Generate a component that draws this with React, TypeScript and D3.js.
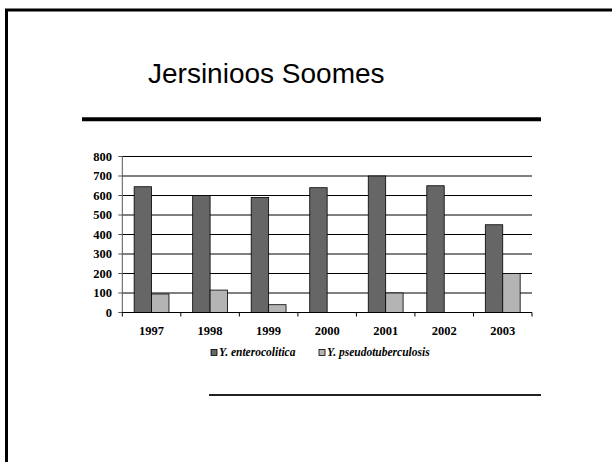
import * as d3 from 'd3';

const years = ['1997', '1998', '1999', '2000', '2001', '2002', '2003'];
const seriesNames = ['Y. enterocolitica', 'Y. pseudotuberculosis'];
const enterocolitica = [645, 600, 590, 640, 700, 650, 450];
const pseudotuberculosis = [95, 115, 40, 0, 100, 0, 200];
const yTicks = [0, 100, 200, 300, 400, 500, 600, 700, 800];
const colors = ['#666666', '#b4b4b4'];

const W = 612;
const H = 462;

const App = () => {
  const plot = { left: 122.3, right: 532, top: 156.5, bottom: 312.5 };

  const x = d3.scaleBand<string>().domain(years).range([plot.left, plot.right]).padding(0);
  const inner = d3
    .scaleBand<string>()
    .domain(seriesNames)
    .range([0, x.bandwidth()])
    .paddingInner(0)
    .paddingOuter(0.68);
  const y = d3.scaleLinear().domain([0, 800]).range([plot.bottom, plot.top]);

  const values = [enterocolitica, pseudotuberculosis];
  const tickFont = { fontFamily: '"Liberation Serif", "Times New Roman", serif', fontWeight: 'bold', fontSize: 12.5 };

  return (
    <svg width={W} height={H} style={{ position: 'absolute', left: 0, top: 0, background: '#fff' }}>
      {/* slide frame */}
      <path d={`M6.5,${H + 5} L6.5,10 L${W + 5},10`} fill="none" stroke="#000" strokeWidth={3} />

      <text x={148} y={83} fontFamily='"Liberation Sans", Arial, sans-serif' fontSize={28} fill="#000">
        Jersinioos Soomes
      </text>
      <line x1={82} x2={541} y1={119.3} y2={119.3} stroke="#000" strokeWidth={4} />
      <line x1={209} x2={541} y1={395} y2={395} stroke="#222" strokeWidth={2} />

      {/* gridlines */}
      {yTicks.slice(1).map((t) => (
        <line key={t} x1={plot.left} x2={plot.right} y1={y(t)} y2={y(t)} stroke="#000" strokeWidth={1} />
      ))}

      {/* bars */}
      {years.map((yr, i) => (
        <g key={yr}>
          {seriesNames.map((s, j) => {
            const v = values[j][i];
            if (!v) return null;
            return (
              <rect
                key={s}
                x={x(yr)! + inner(s)!}
                y={y(v)}
                width={inner.bandwidth()}
                height={y(0) - y(v)}
                fill={colors[j]}
                stroke="#000"
                strokeWidth={0.8}
              />
            );
          })}
        </g>
      ))}

      {/* y axis */}
      <line x1={plot.left} x2={plot.left} y1={plot.top} y2={plot.bottom} stroke="#555" strokeWidth={1} />
      {yTicks.map((t) => (
        <g key={t}>
          <line x1={plot.left - 4} x2={plot.left} y1={y(t)} y2={y(t)} stroke="#555" strokeWidth={1} />
          <text x={112} y={y(t)} dy="0.35em" textAnchor="end" {...tickFont}>
            {t}
          </text>
        </g>
      ))}

      {/* x axis */}
      <line x1={plot.left} x2={plot.right} y1={plot.bottom} y2={plot.bottom} stroke="#000" strokeWidth={1} />
      {[...years.map((yr) => x(yr)!), plot.right].map((px, i) => (
        <line key={i} x1={px} x2={px} y1={plot.bottom} y2={plot.bottom + 4} stroke="#000" strokeWidth={1} />
      ))}
      {years.map((yr) => (
        <text key={yr} x={x(yr)! + x.bandwidth() / 2} y={335} textAnchor="middle" {...tickFont}>
          {yr}
        </text>
      ))}

      {/* legend */}
      {seriesNames.map((s, j) => {
        const lx = j === 0 ? 211 : 319;
        return (
          <g key={s}>
            <rect x={lx} y={349.5} width={6} height={6} fill={colors[j]} stroke="#000" strokeWidth={0.8} />
            <text
              x={lx + 8}
              y={356}
              fontFamily='"Liberation Serif", "Times New Roman", serif'
              fontWeight="bold"
              fontStyle="italic"
              fontSize={11.5}
            >
              {s}
            </text>
          </g>
        );
      })}
    </svg>
  );
};

export default App;
